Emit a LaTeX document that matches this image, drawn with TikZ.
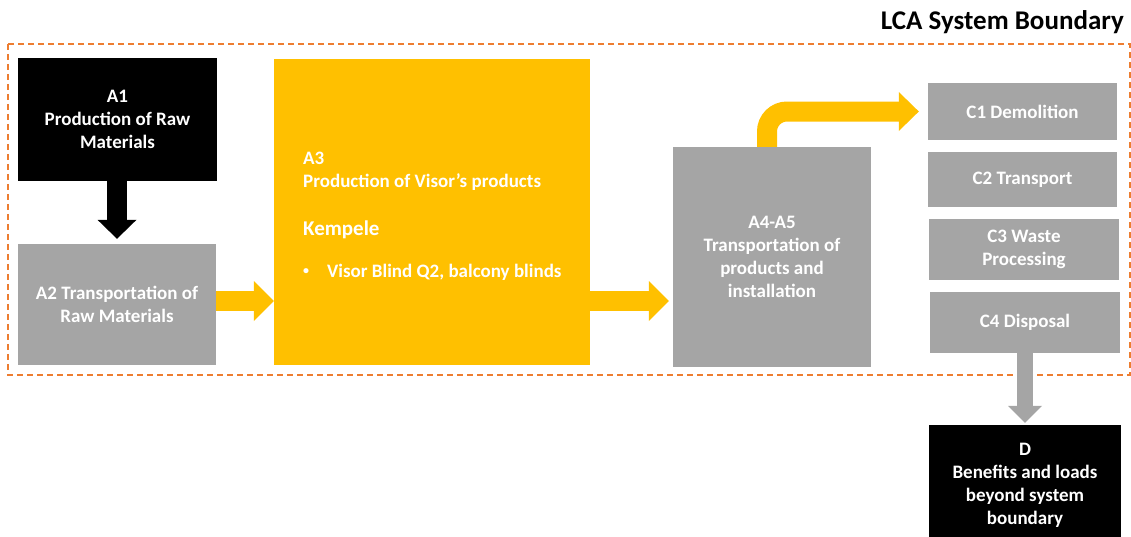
\documentclass[tikz,border=0pt]{standalone}
\usepackage{fontspec}
\setmainfont{Carlito}
\usetikzlibrary{calc}

\definecolor{lcayellow}{HTML}{FFC000}
\definecolor{lcagrey}{HTML}{A5A5A5}
\definecolor{lcaorange}{HTML}{ED7D31}

\tikzset{
  box/.style={rectangle, inner sep=0pt, text=white, align=center,
    font=\fontsize{19}{23}\selectfont\bfseries},
  blackbox/.style={box, fill=black},
  greybox/.style={box, fill=lcagrey},
  yellowbox/.style={box, fill=lcayellow},
  lefttext/.style={anchor=base west, inner sep=0pt, text=white,
    font=\fontsize{19}{23}\selectfont\bfseries},
  shaft/.style={line width=20pt, line cap=butt},
  boundary/.style={draw=lcaorange, line width=1.4pt, dash pattern=on 6pt off 4pt},
}

\begin{document}
\begin{tikzpicture}[x=1pt, y=-1pt]
\useasboundingbox (0,0) rectangle (1131,536);

% system boundary
\draw[boundary] (8,44) rectangle (1130,375);
\node[anchor=east, inner sep=0pt, font=\fontsize{27}{30}\selectfont\bfseries]
  (title) at (1124,22) {LCA System Boundary};

% modules A
\node[blackbox, minimum width=199pt, minimum height=123pt] (A1) at (117.5,119.5)
  {A1\\Production of Raw\\Materials};
\node[greybox, minimum width=198pt, minimum height=121pt] (A2) at (117,304.5)
  {A2 Transportation of\\Raw Materials};
\node[yellowbox, minimum width=316pt, minimum height=306pt] (A3) at (432,212) {};
\node[lefttext] (A3code) at (303,164) {A3};
\node[lefttext] (A3name) at (303,187) {Production of Visor’s products};
\node[lefttext, font=\fontsize{21}{25}\selectfont\bfseries] (A3site) at (303,235) {Kempele};
\node[lefttext] (A3item) at (303,277)
  {\makebox[24pt][l]{\fontsize{12}{12}\selectfont\raisebox{2.5pt}{•}}Visor Blind Q2, balcony blinds};
\node[greybox, minimum width=198pt, minimum height=220pt] (A4) at (772,257)
  {A4-A5\\Transportation of\\products and\\installation};

% modules C
\node[greybox, minimum width=189pt, minimum height=57pt] (C1) at (1022.5,111.5) {C1 Demolition};
\node[greybox, minimum width=189pt, minimum height=55pt] (C2) at (1022.5,179.5) {C2 Transport};
\node[greybox, minimum width=190pt, minimum height=61pt] (C3) at (1024,249.5) {C3 Waste\\Processing};
\node[greybox, minimum width=190pt, minimum height=61pt] (C4) at (1025,322.5) {C4 Disposal};

% module D
\node[blackbox, minimum width=192pt, minimum height=121pt] (D) at (1025,485.5)
  {D\\Benefits and loads\\beyond system\\boundary};

% A1 -> A2
\draw[shaft, black] (A1.south -| A2.north) -- ($(A2.north)+(0,-23)$);
\fill[black] ($(A2.north)+(-19.5,-24)$) -- ($(A2.north)+(0,-5)$) -- ($(A2.north)+(19.5,-24)$) -- cycle;

% A2 -> A3 -> A4
\coordinate (flow) at ($(A2.east)+(0,-3.5)$);
\draw[shaft, lcayellow] (flow) -- ($(flow -| A3.west)+(-19,0)$);
\fill[lcayellow] ($(flow -| A3.west)+(-20,-20)$) -- (flow -| A3.west) -- ($(flow -| A3.west)+(-20,20)$) -- cycle;
\draw[shaft, lcayellow] (flow -| A3.east) -- ($(flow -| A4.west)+(-23,0)$);
\fill[lcayellow] ($(flow -| A4.west)+(-24,-20)$) -- ($(flow -| A4.west)+(-4,0)$) -- ($(flow -| A4.west)+(-24,20)$) -- cycle;

% A4 -> C1
\draw[shaft, lcayellow, rounded corners=20pt] ($(A4.north)+(-5,0)$) |- ($(C1.west)+(-28,0)$);
\fill[lcayellow] ($(C1.west)+(-29,-19.5)$) -- ($(C1.west)+(-9,0)$) -- ($(C1.west)+(-29,19.5)$) -- cycle;

% C4 -> D
\draw[line width=16pt, lcagrey] (C4.south) -- ($(D.north)+(0,-18)$);
\fill[lcagrey] ($(D.north)+(-17,-19)$) -- ($(D.north)+(0,-2)$) -- ($(D.north)+(17,-19)$) -- cycle;
\end{tikzpicture}
\end{document}
